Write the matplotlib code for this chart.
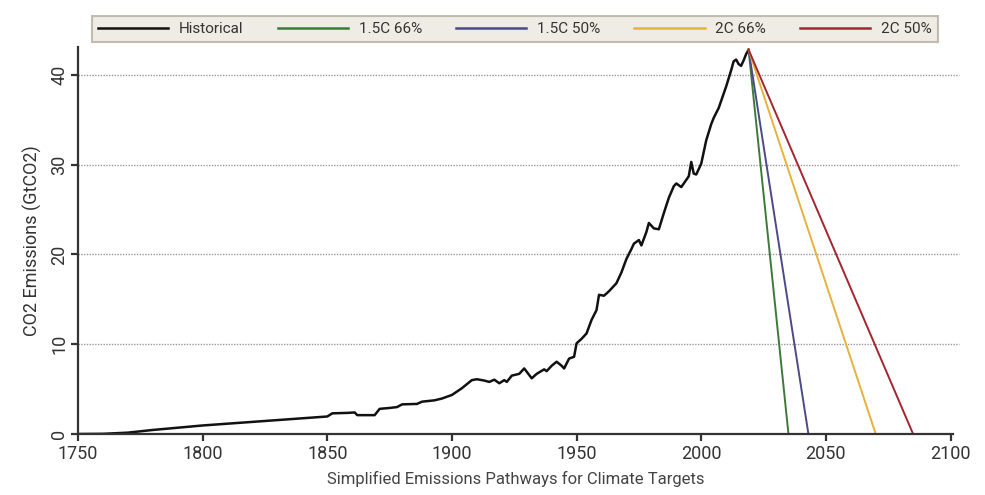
import matplotlib.pyplot as plt

# Historical CO2 emissions (GtCO2)
hist_years = [1750, 1760, 1770, 1780, 1790, 1800, 1810, 1820, 1830, 1840, 1850,
              1852, 1858, 1861, 1862, 1869, 1871, 1875, 1878, 1880, 1886, 1888,
              1893, 1896, 1900, 1904, 1908, 1910, 1913, 1915, 1917, 1919, 1921,
              1922, 1924, 1927, 1929, 1932, 1934, 1937, 1938, 1940, 1942, 1944,
              1945, 1947, 1949, 1950, 1952, 1954, 1956, 1958, 1959, 1961, 1963,
              1966, 1968, 1970, 1972, 1973, 1975, 1976, 1978, 1979, 1981, 1983,
              1985, 1987, 1989, 1990, 1992, 1995, 1996, 1997, 1998, 2000, 2002,
              2004, 2005, 2007, 2009, 2010, 2012, 2013, 2014, 2015, 2016, 2017,
              2018, 2019]
hist_vals = [0.0, 0.02, 0.15, 0.45, 0.7, 0.95, 1.15, 1.35, 1.55, 1.75, 1.95,
             2.3, 2.35, 2.4, 2.1, 2.1, 2.8, 2.9, 3.0, 3.3, 3.35, 3.6,
             3.75, 3.95, 4.35, 5.1, 6.0, 6.1, 5.95, 5.8, 6.05, 5.65, 6.0,
             5.8, 6.5, 6.7, 7.3, 6.2, 6.7, 7.2, 7.0, 7.6, 8.05, 7.6,
             7.3, 8.4, 8.6, 10.1, 10.6, 11.2, 12.7, 13.8, 15.5, 15.4, 15.9,
             16.8, 18.0, 19.5, 20.6, 21.2, 21.6, 21.0, 22.5, 23.5, 22.9, 22.8,
             24.6, 26.3, 27.6, 27.9, 27.5, 28.7, 30.3, 29.0, 28.9, 30.1, 32.7,
             34.5, 35.2, 36.3, 37.9, 38.7, 40.5, 41.5, 41.7, 41.2, 41.0, 41.6,
             42.3, 42.8]

# Linear pathways from 2019 down to net zero
path_names = ['1.5C 66%', '1.5C 50%', '2C 66%', '2C 50%']
path_zero_year = [2035, 2043, 2070, 2085]
path_colors = ['#3d7a3a', '#4b4a86', '#e8b23a', '#a3262e']

plt.rcParams['font.family'] = ['Roboto', 'DejaVu Sans']

fig = plt.figure(figsize=(9.85, 4.95), dpi=100)
ax = fig.add_axes([78/985, 1-434/495, 875/985, 387/495])

ax.plot(hist_years, hist_vals, color='#111111', linewidth=1.8, label='Historical')
for name, zy, c in zip(path_names, path_zero_year, path_colors):
    ax.plot([hist_years[-1], zy], [hist_vals[-1], 0], color=c, linewidth=1.4, label=name)

ax.set_xlim(1750, 2101)
ax.set_ylim(0, 43.1)
ax.set_xticks(range(1750, 2101, 50))
ax.set_yticks([0, 10, 20, 30, 40])

for yv in [10, 20, 30, 40]:
    ax.plot([0, 1.007], [yv, yv], transform=ax.get_yaxis_transform(), clip_on=False,
            color='#999999', linestyle=(0, (1, 1)), linewidth=1, zorder=0)

for s in ['top', 'right']:
    ax.spines[s].set_visible(False)
for s in ['left', 'bottom']:
    ax.spines[s].set_color('#333333')
    ax.spines[s].set_linewidth(1.6)

ax.tick_params(axis='x', direction='out', length=5, width=1.6, color='#333333',
               labelsize=13, labelcolor='#333333', pad=3)
ax.tick_params(axis='y', direction='out', length=5, width=1.6, color='#333333',
               labelsize=13, labelcolor='#333333', labelrotation=90, pad=2)
for lbl in ax.get_yticklabels():
    lbl.set_va('center')

ax.set_ylabel('CO2 Emissions (GtCO2)', fontsize=13, color='#333333', labelpad=6)
ax.set_xlabel('Simplified Emissions Pathways for Climate Targets', fontsize=12,
              color='#444444', labelpad=6)

leg = fig.legend(loc='lower left', bbox_to_anchor=(92/985, 1-42/495, 846/985, 37/495),
                 mode='expand', ncol=5, frameon=True, fancybox=False, fontsize=11,
                 handlelength=4.6, borderaxespad=0, handletextpad=0.7)
leg.get_frame().set_facecolor('#ece8df')
leg.get_frame().set_edgecolor('#b5ad9f')
leg.get_frame().set_linewidth(1.5)
for t in leg.get_texts():
    t.set_color('#333333')
for h in leg.get_lines():
    h.set_linewidth(1.8)

fig.savefig('out.png', dpi=100)
